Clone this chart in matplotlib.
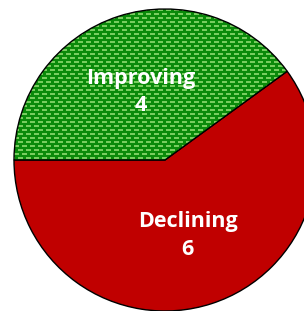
import numpy as np
import matplotlib.pyplot as plt

labels = ["Improving", "Declining"]
values = [4, 6]
colors = ["#0a8a0a", "#c00000"]

W, H = 304, 311
fig = plt.figure(figsize=(W / 100, H / 100), dpi=100)
# circle centre ~ (165,160) px from top-left, radius ~151 px
r_px = 151
cx, cy = 165, 160
ax = fig.add_axes([(cx - r_px) / W, (H - cy - r_px) / H, 2 * r_px / W, 2 * r_px / H])

wedges, _ = ax.pie(values, colors=colors, startangle=36, counterclock=True,
                   radius=1, center=(0, 0), frame=False,
                   wedgeprops=dict(edgecolor="black", linewidth=1.0))
ax.set_xlim(-1, 1)
ax.set_ylim(-1, 1)
ax.set_aspect("auto")
ax.axis("off")

# dashed texture for the green wedge
n = 2 * r_px
tex = np.zeros((n, n, 3))
tex[:] = np.array([10, 138, 10]) / 255
rows = np.arange(n)[:, None]
cols = np.arange(n)[None, :]
shift = ((rows // 4) % 2) * 4
mask = ((rows % 4) < 2) & (((cols + shift) % 8) < 5)
light = np.array([120, 205, 95]) / 255
tex[mask] = light
im = ax.imshow(tex, extent=(-1, 1, -1, 1), interpolation="nearest", zorder=1.5)
im.set_clip_path(wedges[0])
wedges[0].set_zorder(2)
wedges[0].set_facecolor("none")

font = dict(color="white", fontweight="bold", fontsize=15.5, family=["Open Sans", "DejaVu Sans"],
            ha="center", va="center", linespacing=1.4, zorder=5)
ax.text(-0.16, 0.45, "Improving\n4", **font)
ax.text(0.15, -0.50, "Declining\n6", **font)

fig.savefig("out.png", dpi=100)
